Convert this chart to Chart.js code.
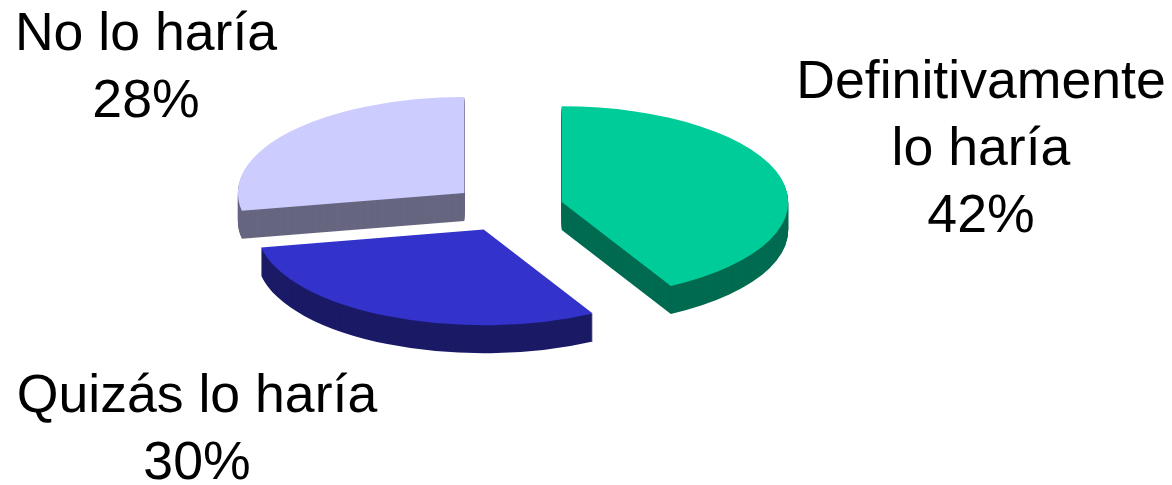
<!DOCTYPE html>
<html lang="es">
<head>
<meta charset="UTF-8" />
<title>Pie</title>
<script src="https://cdn.jsdelivr.net/npm/chart.js"></script>
<style>
html, body { margin: 0; padding: 0; background: #fff; overflow: hidden; }
#wrap { width: 1172px; height: 485px; }
</style>
</head>
<body>
<div id="wrap"><canvas id="myChart"></canvas></div>
<script>
const categories = [["Definitivamente", "lo haría"], ["Quizás lo haría"], ["No lo haría"]];
const values = [42, 30, 28];
const topColors = ["#00CC99", "#3333CC", "#CCCCFF"];
const sideColors = ["#006B50", "#1A1A66", "#666680"];
// centre x and first baseline of each label block
const labelPos = [[981, 98], [197, 412], [146, 50]];

const squash = 0.423;
const depth = 28;
const explode = 56;

function drawSlice(ctx, arc, color, dy) {
  const opts = arc.options;
  const mid = (arc.startAngle + arc.endAngle) / 2;
  arc.options = Object.assign({}, opts, {
    backgroundColor: color,
    borderColor: color,
    borderWidth: 0
  });
  ctx.save();
  // chart.js offset also grows the radius, so move the slices here instead
  ctx.translate(Math.cos(mid) * explode, Math.sin(mid) * explode + dy / squash);
  arc.draw(ctx);
  ctx.restore();
  arc.options = opts;
}

// tilts the pie and stacks the darker copies under it
const tilt = {
  id: "tilt",
  beforeDatasetsDraw(chart) {
    const ctx = chart.ctx;
    const arcs = chart.getDatasetMeta(0).data;
    const cy = arcs[0].y;
    ctx.save();
    ctx.translate(0, cy);
    ctx.scale(1, squash);
    ctx.translate(0, -cy);
    for (let d = depth; d >= 1; d--) {
      arcs.forEach((arc, i) => drawSlice(ctx, arc, sideColors[i], d));
    }
    arcs.forEach((arc, i) => drawSlice(ctx, arc, topColors[i], 0));
    ctx.restore();
    return false;
  }
};

const labelsPlugin = {
  id: "labels",
  afterDraw(chart) {
    const ctx = chart.ctx;
    ctx.save();
    ctx.fillStyle = "#000";
    ctx.font = '53.6px "Liberation Sans", Arial, sans-serif';
    ctx.textAlign = "center";
    categories.forEach((lines, i) => {
      const [x, y] = labelPos[i];
      lines.concat(values[i] + "%").forEach((line, j) => {
        ctx.fillText(line, x, y + j * 67);
      });
    });
    ctx.restore();
  }
};

new Chart(document.getElementById("myChart"), {
  type: "pie",
  data: {
    labels: categories.map((c) => c.join(" ")),
    datasets: [{
      data: values,
      backgroundColor: topColors,
      borderWidth: 0
    }]
  },
  options: {
    responsive: true,
    maintainAspectRatio: false,
    animation: false,
    radius: 226.5,
    layout: { padding: { right: 157, bottom: 69 } },
    plugins: { legend: { display: false }, tooltip: { enabled: false } }
  },
  plugins: [tilt, labelsPlugin]
});
</script>
</body>
</html>
